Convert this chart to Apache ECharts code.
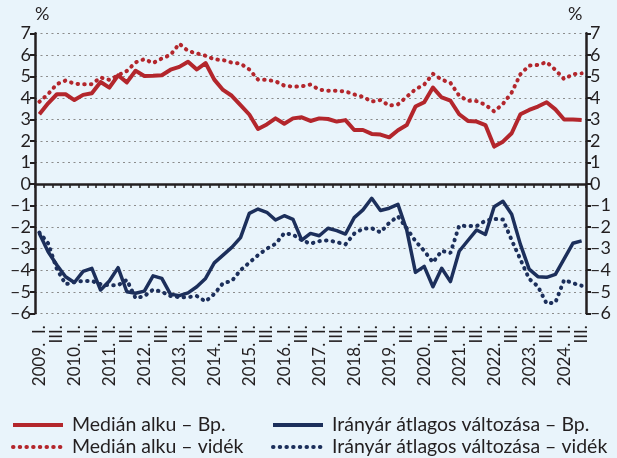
<!DOCTYPE html>
<html>
<head>
<meta charset="utf-8">
<script src="https://cdn.jsdelivr.net/npm/echarts@6/dist/echarts.min.js"></script>
<style>
html,body{margin:0;padding:0;background:#E9F4FB;}
#chart{width:617px;height:458px;}
</style>
</head>
<body>
<div id="chart"></div>
<script>
// Quarters 2009 Q1 – 2024 Q3
const years = [2009,2010,2011,2012,2013,2014,2015,2016,2017,2018,2019,2020,2021,2022,2023,2024];
const quarterNames = ['I.','II.','III.','IV.'];
const categories = [];
years.forEach(y => quarterNames.forEach((q, k) => { if (!(y === 2024 && k === 3)) categories.push(y + '. ' + q); }));

const yTicks = [-6,-5,-4,-3,-2,-1,0,1,2,3,4,5,6,7];

const medianBp = [3.24,3.75,4.17,4.17,3.9,4.14,4.22,4.74,4.48,5.05,4.72,5.26,5.02,5.03,5.05,5.31,5.44,5.68,5.32,5.62,
  4.85,4.37,4.1,3.67,3.23,2.56,2.77,3.05,2.8,3.05,3.1,2.93,3.05,3.02,2.9,2.97,2.51,2.51,2.33,2.3,
  2.17,2.5,2.74,3.6,3.8,4.48,4.02,3.87,3.24,2.93,2.9,2.74,1.74,1.97,2.36,3.24,3.44,3.6,3.8,3.47,
  3.0,3.0,2.98];
const medianVidek = [3.82,4.18,4.64,4.81,4.66,4.63,4.64,4.95,4.84,5.05,5.25,5.65,5.8,5.62,5.83,6.0,6.52,6.18,6.07,5.96,
  5.79,5.76,5.64,5.59,5.32,4.85,4.84,4.77,4.57,4.52,4.54,4.62,4.38,4.33,4.33,4.3,4.16,4.05,3.83,3.9,
  3.64,3.7,4.05,4.4,4.62,5.12,4.85,4.7,4.1,3.87,3.85,3.68,3.37,3.72,4.25,5.1,5.5,5.53,5.66,5.3,
  4.87,5.1,5.14];
const iranyarBp = [-2.29,-3.14,-3.76,-4.3,-4.57,-4.05,-3.91,-4.92,-4.5,-3.88,-5.0,-5.07,-4.97,-4.26,-4.38,-5.12,-5.18,-5.05,-4.77,-4.38,
  -3.66,-3.3,-2.94,-2.49,-1.36,-1.16,-1.31,-1.67,-1.47,-1.64,-2.6,-2.29,-2.4,-2.05,-2.16,-2.32,-1.56,-1.2,-0.66,-1.23,
  -1.12,-0.94,-2.13,-4.1,-3.82,-4.77,-3.91,-4.53,-3.12,-2.62,-2.13,-2.34,-1.05,-0.8,-1.4,-2.8,-3.95,-4.3,-4.33,-4.19,
  -3.47,-2.75,-2.64];
const iranyarVidek = [-2.25,-2.75,-3.95,-4.65,-4.55,-4.5,-4.5,-4.65,-4.7,-4.7,-4.45,-5.3,-5.2,-4.9,-5.0,-5.2,-5.25,-5.25,-5.2,-5.45,
  -5.1,-4.6,-4.5,-4.0,-3.65,-3.3,-3.0,-2.78,-2.28,-2.35,-2.6,-2.77,-2.65,-2.61,-2.7,-2.8,-2.3,-2.07,-2.05,-2.24,
  -1.8,-1.5,-2.05,-2.65,-3.1,-3.64,-3.1,-3.2,-1.93,-1.95,-1.95,-1.7,-1.62,-1.65,-2.6,-3.5,-4.4,-4.75,-5.55,-5.5,
  -4.45,-4.6,-4.72];

const seriesNames = ['Medián alku – Bp.','Medián alku – vidék','Irányár átlagos változása – Bp.','Irányár átlagos változása – vidék'];

const RED = '#B3262C';
const NAVY = '#1C2F5B';
const INK = '#231F20';
const FONT = 'Lato, "Open Sans", sans-serif';

function xLabel(val, idx) {
  const q = idx % 4;
  if (q === 0) return val.replace('. ', '.  ');   // "2009.  I."
  if (q === 2) return 'III.';
  return '';
}
function yLabel(v) { return v < 0 ? '–' + Math.abs(v) : String(v); }

const chart = echarts.init(document.getElementById('chart'), null, {renderer: 'canvas'});
const yCommon = {
  type: 'value', min: yTicks[0], max: yTicks[yTicks.length-1], interval: 1,
  axisLine: {show: true, lineStyle: {color: INK, width: 2.5}},
  axisTick: {show: true, length: 5, lineStyle: {color: INK, width: 2}},
  axisLabel: {color: INK, fontSize: 18, fontFamily: FONT, margin: 4, formatter: yLabel}
};
function legendAt(name, left, top) {
  return {
    data: [name], left: left, top: top, itemWidth: 50, itemHeight: 12,
    itemStyle: {opacity: 0},
    lineStyle: {width: 4},
    textStyle: {color: INK, fontSize: 19.5, fontFamily: FONT, padding: [0, 0, 0, 4]}
  };
}
chart.setOption({
  backgroundColor: '#E9F4FB',
  animation: false,
  grid: {left: 35, right: 31, top: 33.3, bottom: 144.7, containLabel: false},
  legend: [
    legendAt(seriesNames[0], 6, 410),
    legendAt(seriesNames[1], 6, 432),
    legendAt(seriesNames[2], 266, 410),
    legendAt(seriesNames[3], 266, 432)
  ],
  graphic: [
    {type: 'text', left: 35, top: 5, style: {text: '%', fill: INK, font: '18px ' + FONT}},
    {type: 'text', left: 568, top: 5, style: {text: '%', fill: INK, font: '18px ' + FONT}}
  ],
  xAxis: [
    {type: 'category', data: categories, boundaryGap: true, position: 'bottom',
     axisLine: {show: false, onZero: false}, axisTick: {show: false},
     axisLabel: {interval: 0, rotate: 90, margin: 12, color: INK, fontSize: 17, fontFamily: FONT, formatter: xLabel},
     splitLine: {show: false}},
    {type: 'category', data: categories, boundaryGap: true, position: 'bottom',
     axisLine: {show: true, onZero: true, lineStyle: {color: INK, width: 2.5}},
     axisTick: {show: true, length: 4, interval: 0, lineStyle: {color: INK, width: 1.5}},
     axisLabel: {show: false}, splitLine: {show: false}}
  ],
  yAxis: [
    Object.assign({}, yCommon, {position: 'left',
      splitLine: {show: true, lineStyle: {color: '#8C8C8C', width: 1.2, type: [2, 3.5]}}}),
    Object.assign({}, yCommon, {position: 'right', splitLine: {show: false}})
  ],
  series: [
    {name: seriesNames[0], type: 'line', data: medianBp, symbol: 'none', xAxisIndex: 0, yAxisIndex: 0,
     itemStyle: {color: RED}, lineStyle: {color: RED, width: 4, join: 'round'}, z: 5},
    {name: seriesNames[1], type: 'line', data: medianVidek, symbol: 'none', xAxisIndex: 0, yAxisIndex: 0,
     itemStyle: {color: RED}, lineStyle: {color: RED, width: 4, type: [0.5, 6.2], cap: 'round'}, z: 5},
    {name: seriesNames[2], type: 'line', data: iranyarBp, symbol: 'none', xAxisIndex: 0, yAxisIndex: 0,
     itemStyle: {color: NAVY}, lineStyle: {color: NAVY, width: 3.5, join: 'round'}, z: 5},
    {name: seriesNames[3], type: 'line', data: iranyarVidek, symbol: 'none', xAxisIndex: 0, yAxisIndex: 0,
     itemStyle: {color: NAVY}, lineStyle: {color: NAVY, width: 4, type: [0.5, 6.2], cap: 'round'}, z: 5}
  ]
});
</script>
</body>
</html>
